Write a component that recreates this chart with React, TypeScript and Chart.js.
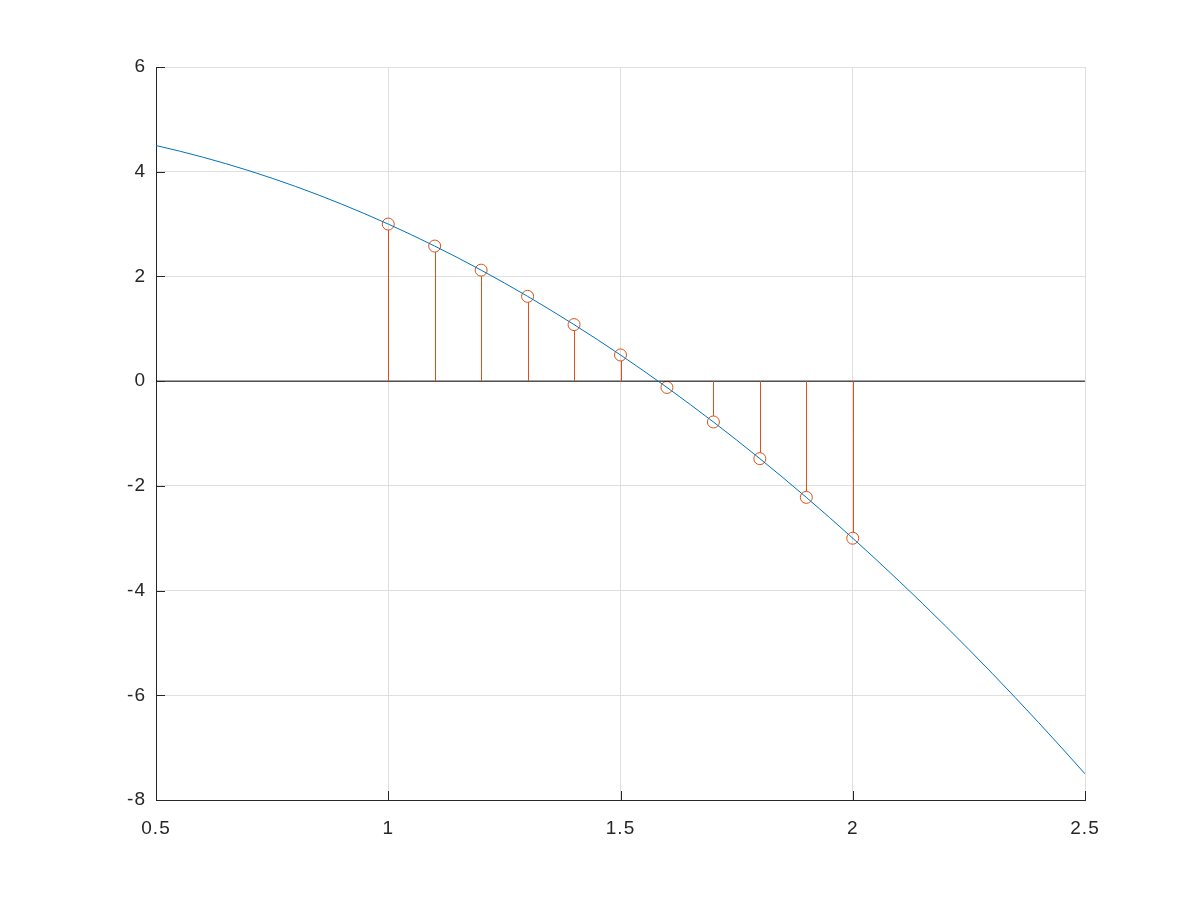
import React, { useEffect, useRef } from "react";
import { Chart, registerables } from "chart.js";

Chart.register(...registerables);

// Curve samples (x, y)
const curveX = [0.5, 0.55, 0.6, 0.65, 0.7, 0.75, 0.8, 0.85, 0.9, 0.95, 1.0, 1.05, 1.1, 1.15, 1.2, 1.25, 1.3, 1.35, 1.4, 1.45, 1.5, 1.55, 1.6, 1.65, 1.7, 1.75, 1.8, 1.85, 1.9, 1.95, 2.0, 2.05, 2.1, 2.15, 2.2, 2.25, 2.3, 2.35, 2.4, 2.45, 2.5];
const curveY = [4.5, 4.395, 4.28, 4.155, 4.02, 3.875, 3.72, 3.555, 3.38, 3.195, 3.0, 2.795, 2.58, 2.355, 2.12, 1.875, 1.62, 1.355, 1.08, 0.795, 0.5, 0.195, -0.12, -0.445, -0.78, -1.125, -1.48, -1.845, -2.22, -2.605, -3.0, -3.405, -3.82, -4.245, -4.68, -5.125, -5.58, -6.045, -6.52, -7.005, -7.5];

// Stem samples
const stemX = [1.0, 1.1, 1.2, 1.3, 1.4, 1.5, 1.6, 1.7, 1.8, 1.9, 2.0];
const stemY = [3.0, 2.58, 2.12, 1.62, 1.08, 0.5, -0.12, -0.78, -1.48, -2.22, -3.0];

// Axes
const xTicks = [0.5, 1, 1.5, 2, 2.5];
const yTicks = [-8, -6, -4, -2, 0, 2, 4, 6];
const baselineX = [0.5, 2.5];
const baselineY = [0, 0];

const BLUE = "#0072BD";
const ORANGE = "#D95319";
const MARKER_R = 6;
const FONT = { family: "'Liberation Sans', Arial, sans-serif", size: 19 };

const spacingPlugin = {
  id: "letterSpacing",
  beforeUpdate(chart: any) {
    (chart.ctx as any).letterSpacing = "1px";
  },
  beforeDraw(chart: any) {
    (chart.ctx as any).letterSpacing = "1px";
  },
};

const stemPlugin = {
  id: "stems",
  afterDatasetsDraw(chart: any) {
    const ctx = chart.ctx;
    const meta = chart.getDatasetMeta(2);
    const yScale = chart.scales.y;
    const y0 = yScale.getPixelForValue(0);
    ctx.save();
    ctx.strokeStyle = ORANGE;
    ctx.lineWidth = 1;
    meta.data.forEach((pt: any) => {
      const dir = pt.y < y0 ? 1 : -1;
      const endY = pt.y + dir * MARKER_R;
      if ((dir === 1 && endY < y0) || (dir === -1 && endY > y0)) {
        const x = Math.round(pt.x) + 0.5;
        ctx.beginPath();
        ctx.moveTo(x, y0);
        ctx.lineTo(x, endY);
        ctx.stroke();
      }
    });
    ctx.restore();
  },
};

const tickPlugin = {
  id: "inwardTicks",
  afterDraw(chart: any) {
    const ctx = chart.ctx;
    const { x, y } = chart.scales;
    const area = chart.chartArea;
    ctx.save();
    ctx.strokeStyle = "#262626";
    ctx.lineWidth = 1;
    xTicks.forEach((v) => {
      const px = Math.round(x.getPixelForValue(v)) + 0.5;
      ctx.beginPath();
      ctx.moveTo(px, area.bottom);
      ctx.lineTo(px, area.bottom - 9);
      ctx.stroke();
    });
    yTicks.forEach((v) => {
      const py = Math.round(y.getPixelForValue(v)) + 0.5;
      ctx.beginPath();
      ctx.moveTo(area.left, py);
      ctx.lineTo(area.left + 9, py);
      ctx.stroke();
    });
    ctx.restore();
  },
};

export default function App() {
  const ref = useRef<HTMLCanvasElement>(null);

  useEffect(() => {
    if (!ref.current) return;
    const chart = new Chart(ref.current, {
      type: "scatter",
      data: {
        datasets: [
          {
            label: "curve",
            data: curveX.map((xv, i) => ({ x: xv, y: curveY[i] })),
            showLine: true,
            borderColor: BLUE,
            borderWidth: 1,
            pointRadius: 0,
            fill: false,
            tension: 0,
          },
          {
            label: "baseline",
            data: baselineX.map((xv, i) => ({ x: xv, y: baselineY[i] })),
            showLine: true,
            borderColor: "#000000",
            borderWidth: 1,
            pointRadius: 0,
            fill: false,
          },
          {
            label: "stems",
            data: stemX.map((xv, i) => ({ x: xv, y: stemY[i] })),
            showLine: false,
            pointStyle: "circle",
            pointRadius: MARKER_R,
            pointBorderWidth: 1,
            pointBorderColor: ORANGE,
            pointBackgroundColor: "rgba(0,0,0,0)",
            borderColor: ORANGE,
            backgroundColor: "rgba(0,0,0,0)",
          },
        ],
      },
      options: {
        responsive: false,
        animation: false,
        events: [],
        layout: { padding: { left: 0, top: 67, right: 115, bottom: 0 } },
        plugins: {
          legend: { display: false },
          tooltip: { enabled: false },
          title: { display: false },
        },
        scales: {
          x: {
            type: "linear",
            min: 0.5,
            max: 2.5,
            afterFit: (s: any) => {
              s.height = 100;
            },
            afterBuildTicks: (s: any) => {
              s.ticks = xTicks.map((v) => ({ value: v }));
            },
            grid: { color: "#dfdfdf", drawTicks: false, lineWidth: 1 },
            border: { color: "#262626", width: 1 },
            ticks: {
              color: "#262626",
              padding: 17,
              maxRotation: 0,
              font: FONT,
              callback: (v: any) => String(v),
            },
          },
          y: {
            type: "linear",
            min: -8,
            max: 6,
            afterFit: (s: any) => {
              s.width = 156;
            },
            afterBuildTicks: (s: any) => {
              s.ticks = yTicks.map((v) => ({ value: v }));
            },
            grid: { color: "#dfdfdf", drawTicks: false, lineWidth: 1 },
            border: { color: "#262626", width: 1 },
            ticks: {
              color: "#262626",
              padding: 10,
              font: FONT,
              callback: (v: any) => String(v),
            },
          },
        },
      },
      plugins: [spacingPlugin, stemPlugin, tickPlugin],
    });
    return () => chart.destroy();
  }, []);

  return (
    <div style={{ position: "absolute", left: 0, top: 0, width: 1200, height: 900, background: "#ffffff" }}>
      <canvas ref={ref} width={1200} height={900} style={{ display: "block", width: 1200, height: 900 }} />
    </div>
  );
}
